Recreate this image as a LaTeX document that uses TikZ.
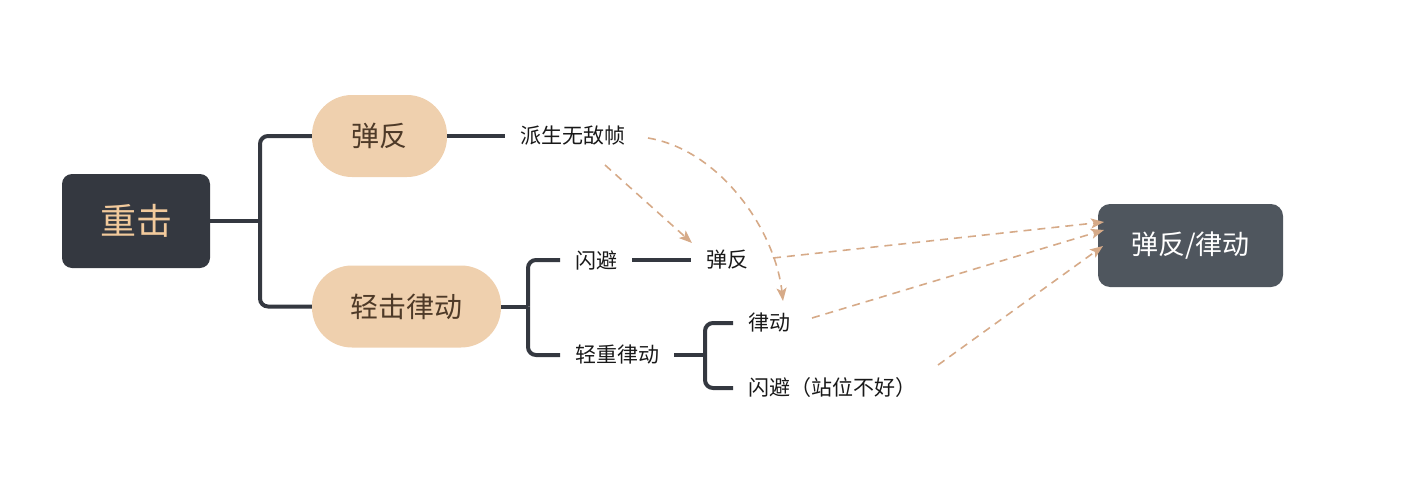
\documentclass[tikz,border=0pt]{standalone}
\usepackage{fontspec}
\setmainfont{Noto Sans CJK SC}
\usetikzlibrary{arrows.meta}
\definecolor{darkbox}{HTML}{343840}
\definecolor{greybox}{HTML}{4F565E}
\definecolor{pill}{HTML}{EFD0AE}
\definecolor{pilltext}{HTML}{4E3A28}
\definecolor{roottext}{HTML}{F2CA9C}
\definecolor{dashc}{HTML}{D6AA88}
\definecolor{treec}{HTML}{343840}
\tikzset{
  rootbox/.style={fill=darkbox, rounded corners=10pt, minimum width=148pt, minimum height=94pt, text=roottext, font=\fontsize{36}{40}\selectfont, inner sep=0pt},
  targetbox/.style={fill=greybox, rounded corners=12pt, minimum width=185pt, minimum height=83pt, text=white, font=\fontsize{27}{32}\selectfont, inner sep=0pt},
  pillbox/.style={fill=pill, rounded corners=40pt, minimum height=82pt, text=pilltext, font=\fontsize{28}{32}\selectfont, inner sep=0pt},
  leaf/.style={anchor=west, text=black!90, font=\fontsize{21}{25}\selectfont, inner xsep=15pt, inner ysep=4pt},
  tree/.style={draw=treec, line width=4pt},
  link/.style={draw=dashc, line width=1.6pt, dash pattern=on 8pt off 6pt, -{Stealth[length=13pt,width=10pt,inset=3pt]}},
}
\begin{document}
\begin{tikzpicture}[x=1pt,y=-1pt]
\useasboundingbox (0,0) rectangle (1406,490);
% nodes
\node[rootbox] (root) at (136,221) {重击};
\node[pillbox, minimum width=135pt] (b1) at (379.5,136) {弹反};
\node[pillbox, minimum width=189pt] (b2) at (406.5,306.5) {轻击律动};
\node[leaf] (d1) at (505,136) {派生无敌帧};
\node[leaf] (s1) at (560,260) {闪避};
\node[leaf] (t1) at (691,260) {弹反};
\node[leaf] (s2) at (560,355) {轻重律动};
\node[leaf] (r1) at (733,323) {律动};
\node[leaf] (r2) at (733,388) {闪避（站位不好）};
\node[targetbox] (goal) at (1190.5,245.5) {弹反/律动};
% tree connectors
\coordinate (j1) at (260,221);
\coordinate (j2) at (528,306.5);
\coordinate (j3) at (705,355);
\draw[tree] (root.east) -- (j1);
\draw[tree, rounded corners=8pt] (j1) |- (b1.west);
\draw[tree, rounded corners=8pt] (j1) |- (b2.west);
\draw[tree] (b1.east) -- (d1.west);
\draw[tree] (b2.east) -- (j2);
\draw[tree, rounded corners=8pt] (j2) |- (s1.west);
\draw[tree, rounded corners=8pt] (j2) |- (s2.west);
\draw[tree] (s1.east) -- (t1.west);
\draw[tree] (s2.east) -- (j3);
\draw[tree, rounded corners=8pt] (j3) |- (r1.west);
\draw[tree, rounded corners=8pt] (j3) |- (r2.west);
% dashed links
\coordinate (a1s) at (605,165);
\coordinate (a1e) at (692,243);
\coordinate (a2s) at (648,138);
\coordinate (a2e) at (783,301);
\coordinate (a3s) at (773,258);
\coordinate (a4s) at (812,318);
\coordinate (a5s) at (938,365);
\coordinate (g1) at (1104,222);
\coordinate (g2) at (1104,230);
\coordinate (g3) at (1103,246);
\draw[link] (a1s) -- (a1e);
\draw[link] (a2s) .. controls (720,150) and (775,230) .. (a2e);
\draw[link] (a3s) -- (g1);
\draw[link] (a4s) -- (g2);
\draw[link] (a5s) -- (g3);
\end{tikzpicture}
\end{document}
